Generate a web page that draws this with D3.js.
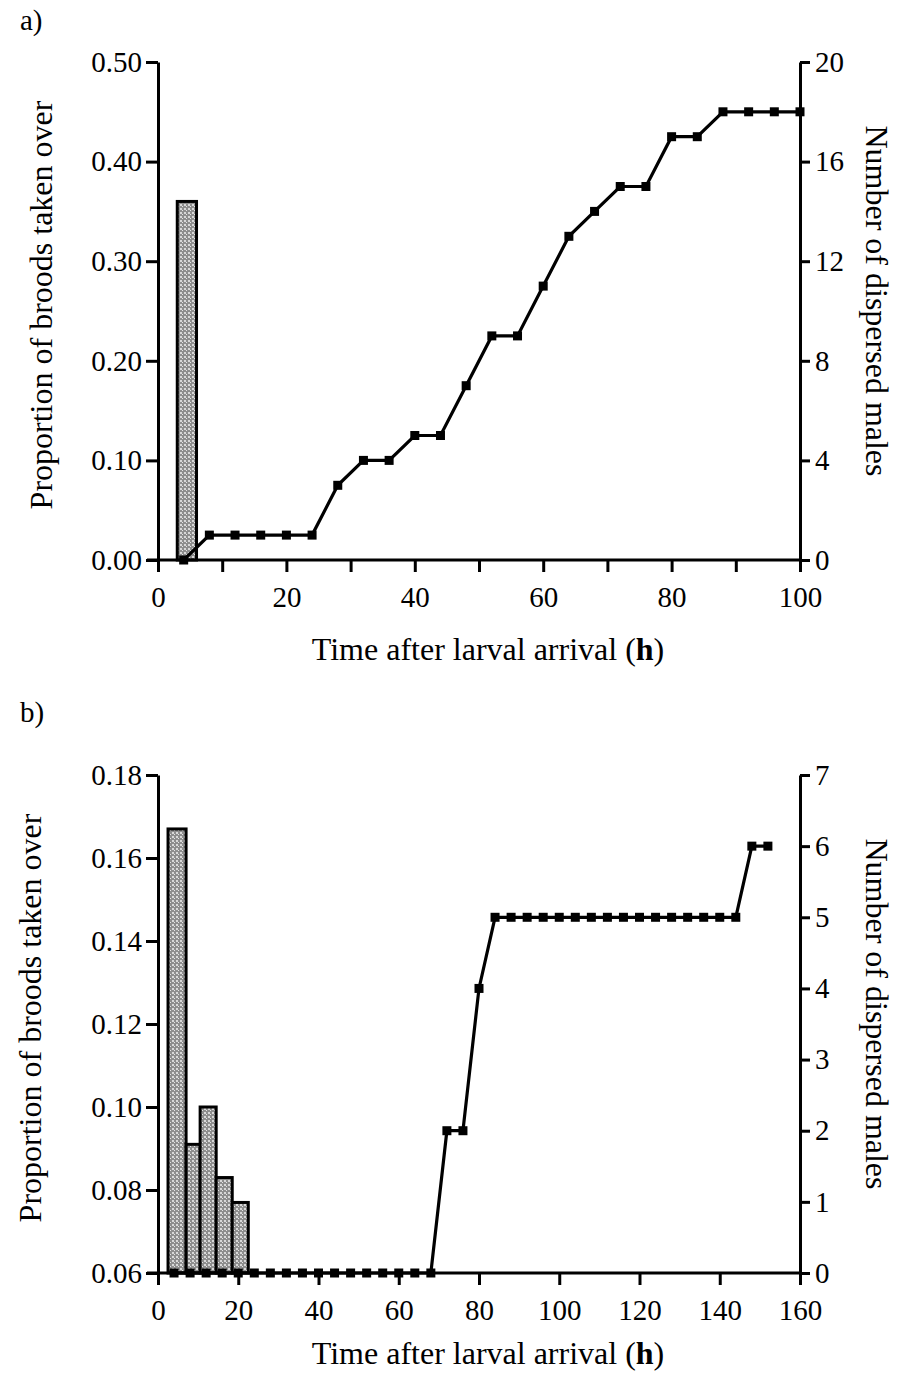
<!DOCTYPE html>
<html>
<head>
<meta charset="utf-8">
<script src="https://cdn.jsdelivr.net/npm/d3@7"></script>
<style>
  body { margin: 0; background: #fff; }
  svg text { font-family: "Liberation Serif", "Times New Roman", serif; fill: #000; }
</style>
</head>
<body>
<svg id="chart" width="907" height="1375"></svg>
<script>
// panel a data
var binEdgesA = [3, 6];
var propA = [0.36];
var timeA = [4, 8, 12, 16, 20, 24, 28, 32, 36, 40, 44, 48, 52, 56, 60, 64, 68, 72, 76, 80, 84, 88, 92, 96, 100];
var malesA = [0, 1, 1, 1, 1, 1, 3, 4, 4, 5, 5, 7, 9, 9, 11, 13, 14, 15, 15, 17, 17, 18, 18, 18, 18];

// panel b data
var binEdgesB = [2.5, 7, 10.5, 14.5, 18.5, 22.5];
var propB = [0.167, 0.091, 0.100, 0.083, 0.077];
var timeB = [4, 8, 12, 16, 20, 24, 28, 32, 36, 40, 44, 48, 52, 56, 60, 64, 68,
             72, 76, 80, 84, 88, 92, 96, 100, 104, 108, 112, 116, 120, 124, 128, 132, 136, 140, 144, 148, 152];
var malesB = [0, 0, 0, 0, 0, 0, 0, 0, 0, 0, 0, 0, 0, 0, 0, 0, 0,
              2, 2, 4, 5, 5, 5, 5, 5, 5, 5, 5, 5, 5, 5, 5, 5, 5, 5, 5, 6, 6];

var leftTicksA = [0, 0.1, 0.2, 0.3, 0.4, 0.5];
var rightTicksA = [0, 4, 8, 12, 16, 20];
var xTicksA = [0, 10, 20, 30, 40, 50, 60, 70, 80, 90, 100];
var xLabelsA = [0, 20, 40, 60, 80, 100];
var leftTicksB = [0.06, 0.08, 0.10, 0.12, 0.14, 0.16, 0.18];
var rightTicksB = [0, 1, 2, 3, 4, 5, 6, 7];
var xTicksB = [0, 20, 40, 60, 80, 100, 120, 140, 160];

var svg = d3.select('#chart');
var tickFont = '29px';
var titleFont = '32px';

// stippled grey fill like the printed bars
var defs = svg.append('defs');
var pat = defs.append('pattern')
    .attr('id', 'stipple')
    .attr('patternUnits', 'userSpaceOnUse')
    .attr('width', 4).attr('height', 4);
pat.append('rect').attr('width', 4).attr('height', 4).attr('fill', '#8e8e8e');
pat.append('rect').attr('x', 0).attr('y', 0).attr('width', 2).attr('height', 2).attr('fill', '#d8d8d8');
pat.append('rect').attr('x', 2).attr('y', 2).attr('width', 1).attr('height', 1).attr('fill', '#e6e6e6');

function drawPanel(o) {
    var x = d3.scaleLinear().domain(o.xDomain).range([158, 800]);
    var yL = d3.scaleLinear().domain(o.leftDomain).range([o.bottom, o.top]);
    var yR = d3.scaleLinear().domain(o.rightDomain).range([o.bottom, o.top]);
    var g = svg.append('g');

    // bars
    var bins = o.props.map((p, i) => ({ x0: o.edges[i], x1: o.edges[i + 1], v: p }));
    g.selectAll('rect.bar')
        .data(bins)
        .enter()
        .append('rect')
        .attr('class', 'bar')
        .attr('x', d => x(d.x0))
        .attr('width', d => x(d.x1) - x(d.x0))
        .attr('y', d => yL(d.v))
        .attr('height', d => yL(o.leftDomain[0]) - yL(d.v))
        .attr('fill', 'url(#stipple)')
        .attr('stroke', '#000')
        .attr('stroke-width', 3);

    // axes
    var ax = d3.axisBottom(x).tickValues(o.xTicks).tickSize(12).tickPadding(14).tickSizeOuter(0)
        .tickFormat(d => o.xLabels.indexOf(d) >= 0 ? d : '');
    var gx = g.append('g').attr('transform', `translate(0,${o.bottom})`).call(ax);

    var al = d3.axisLeft(yL).tickValues(o.leftTicks).tickSize(12).tickPadding(4).tickSizeOuter(0)
        .tickFormat(d3.format('.2f'));
    var gl = g.append('g').attr('transform', 'translate(158,0)').call(al);

    var ar = d3.axisRight(yR).tickValues(o.rightTicks).tickSize(10).tickPadding(5).tickSizeOuter(0)
        .tickFormat(d3.format('d'));
    var gr = g.append('g').attr('transform', 'translate(800,0)').call(ar);

    [gx, gl, gr].forEach(a => {
        a.selectAll('path, line').attr('stroke', '#000').attr('stroke-width', 3);
        a.selectAll('text').style('font-size', tickFont).attr('fill', '#000')
            .style('font-family', '"Liberation Serif", serif');
    });
    gx.select('.domain').attr('d', `M147,0H800`);

    // line + markers
    var pts = o.times.map((t, i) => ({ t: t, v: o.males[i] }));
    var line = d3.line().x(d => x(d.t)).y(d => yR(d.v));
    g.append('path')
        .datum(pts)
        .attr('d', line)
        .attr('fill', 'none')
        .attr('stroke', '#000')
        .attr('stroke-width', 3.2);
    g.selectAll('rect.pt')
        .data(pts)
        .enter()
        .append('rect')
        .attr('class', 'pt')
        .attr('x', d => x(d.t) - 4.5)
        .attr('y', d => yR(d.v) - 4.5)
        .attr('width', 9)
        .attr('height', 9)
        .attr('fill', '#000');

    // titles
    var mid = (o.top + o.bottom) / 2;
    var xt = g.append('text')
        .attr('x', 488)
        .attr('y', o.bottom + o.xTitleOff)
        .attr('text-anchor', 'middle')
        .style('font-size', titleFont)
        .text('Time after larval arrival (');
    xt.append('tspan').style('font-weight', 'bold').text('h');
    xt.append('tspan').text(')');

    g.append('text')
        .attr('transform', `translate(${o.leftTitleX},${mid - 6}) rotate(-90)`)
        .attr('text-anchor', 'middle')
        .style('font-size', titleFont)
        .text('Proportion of broods taken over');

    g.append('text')
        .attr('transform', `translate(866,${mid - 10}) rotate(90)`)
        .attr('text-anchor', 'middle')
        .style('font-size', titleFont)
        .text('Number of dispersed males');

    g.append('text')
        .attr('x', 20)
        .attr('y', o.labelY)
        .style('font-size', tickFont)
        .text(o.label);
}

drawPanel({
    label: 'a)', labelY: 30, top: 62, bottom: 560,
    xDomain: [0, 100], leftDomain: [0, 0.5], rightDomain: [0, 20],
    xTicks: xTicksA, xLabels: xLabelsA,
    leftTicks: leftTicksA, rightTicks: rightTicksA,
    edges: binEdgesA, props: propA, times: timeA, males: malesA,
    leftTitleX: 52, xTitleOff: 100
});

drawPanel({
    label: 'b)', labelY: 722, top: 775, bottom: 1273,
    xDomain: [0, 160], leftDomain: [0.06, 0.18], rightDomain: [0, 7],
    xTicks: xTicksB, xLabels: xTicksB,
    leftTicks: leftTicksB, rightTicks: rightTicksB,
    edges: binEdgesB, props: propB, times: timeB, males: malesB,
    leftTitleX: 41, xTitleOff: 91
});
</script>
</body>
</html>
